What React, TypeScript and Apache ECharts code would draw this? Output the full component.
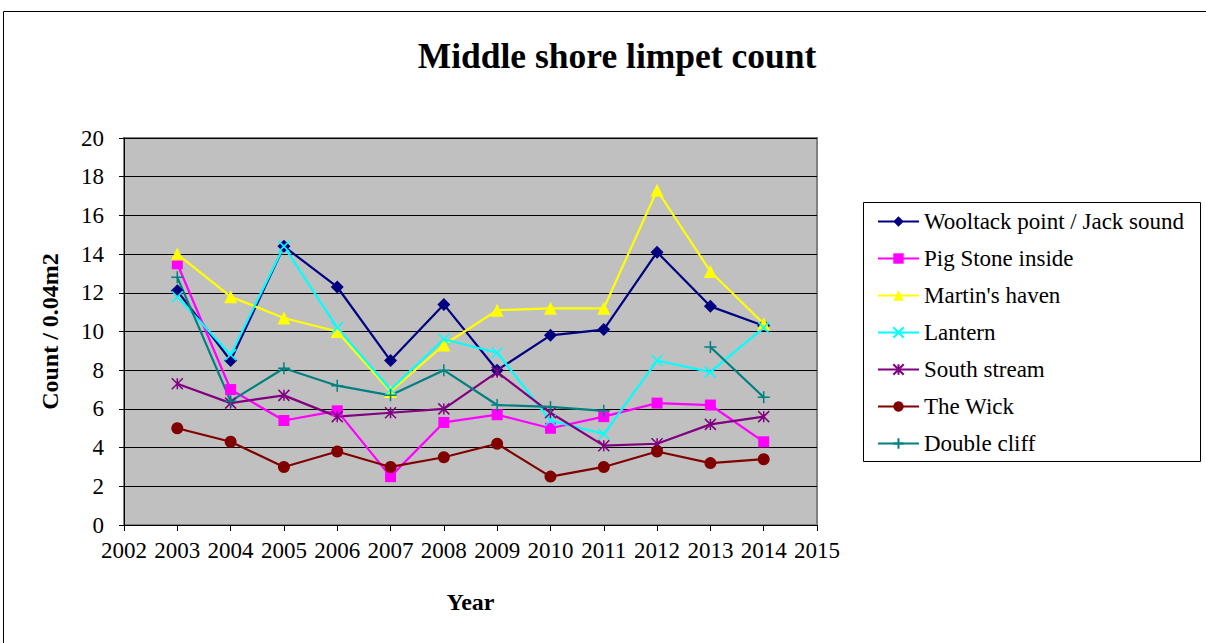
import React, { useEffect, useRef } from "react";
import * as echarts from "echarts";

const years = [2003, 2004, 2005, 2006, 2007, 2008, 2009, 2010, 2011, 2012, 2013, 2014];
const wooltack = [12.1, 8.5, 14.4, 12.3, 8.5, 11.4, 8.0, 9.8, 10.1, 14.1, 11.3, 10.3];
const pigStone = [13.5, 7.0, 5.4, 5.9, 2.5, 5.3, 5.7, 5.0, 5.6, 6.3, 6.2, 4.3];
const martins = [14.0, 11.8, 10.7, 10.0, 6.9, 9.3, 11.1, 11.2, 11.2, 17.3, 13.1, 10.4];
const lantern = [11.8, 8.8, 14.4, 10.2, 7.0, 9.6, 8.9, 5.4, 4.7, 8.5, 7.9, 10.2];
const southStream = [7.3, 6.3, 6.7, 5.6, 5.8, 6.0, 7.9, 5.8, 4.1, 4.2, 5.2, 5.6];
const theWick = [5.0, 4.3, 3.0, 3.8, 3.0, 3.5, 4.2, 2.5, 3.0, 3.8, 3.2, 3.4];
const doubleCliff = [12.8, 6.4, 8.1, 7.2, 6.7, 8.0, 6.2, 6.1, 5.9, null, 9.2, 6.6];

const FONT = '"Liberation Serif", "Times New Roman", serif';

const seriesDefs = [
  { name: "Wooltack point / Jack sound", data: wooltack, color: "#000080", symbol: "diamond", size: 13, stroke: false },
  { name: "Pig Stone inside", data: pigStone, color: "#FF00FF", symbol: "rect", size: 11, stroke: false },
  { name: "Martin's haven", data: martins, color: "#FFFF00", symbol: "triangle", size: 13, stroke: false },
  { name: "Lantern", data: lantern, color: "#00FFFF", symbol: "path://M0,0L10,10M10,0L0,10", size: 11, stroke: true },
  { name: "South stream", data: southStream, color: "#800080", symbol: "path://M0,0L10,10M10,0L0,10M5,0L5,10", size: 11, stroke: true },
  { name: "The Wick", data: theWick, color: "#800000", symbol: "circle", size: 12, stroke: false },
  { name: "Double cliff", data: doubleCliff, color: "#008080", symbol: "path://M5,0L5,10M0,5L10,5", size: 12, stroke: true },
];

export default function App() {
  const ref = useRef<HTMLDivElement>(null);
  useEffect(() => {
    if (!ref.current) return;
    const chart = echarts.init(ref.current, null, { renderer: "svg" });
    chart.setOption({
      animation: false,
      backgroundColor: "#ffffff",
      title: {
        text: "Middle shore limpet count",
        left: 612,
        top: 33,
        textAlign: "center",
        textStyle: { fontFamily: FONT, fontSize: 35.5, fontWeight: "bold", color: "#000" },
      },
      graphic: [
        {
          type: "rect",
          shape: { x: 3.5, y: 11.5, width: 1300, height: 700 },
          style: { fill: "none", stroke: "#000", lineWidth: 1 },
          silent: true,
        },
        {
          type: "rect",
          shape: { x: 863.5, y: 202.5, width: 337, height: 259 },
          style: { fill: "#fff", stroke: "#000", lineWidth: 1 },
          silent: true,
          z: 0,
        },
      ],
      legend: {
        orient: "vertical",
        left: 872,
        top: 205,
        itemWidth: 41,
        itemHeight: 13,
        itemGap: 14,
        z: 10,
        textStyle: { fontFamily: FONT, fontSize: 23, color: "#000", lineHeight: 23 },
        data: seriesDefs.map((s) => s.name),
      },
      grid: {
        left: 124,
        top: 138,
        right: 389,
        bottom: 118,
        show: true,
        backgroundColor: "#C0C0C0",
        borderColor: "#808080",
        borderWidth: 2,
      },
      xAxis: {
        type: "value",
        min: 2002,
        max: 2015,
        interval: 1,
        name: "Year",
        nameLocation: "middle",
        nameGap: 65,
        nameTextStyle: { fontFamily: FONT, fontSize: 24, fontWeight: "bold", color: "#000" },
        axisLine: { show: true, lineStyle: { color: "#000", width: 1 } },
        axisTick: { show: true, length: 6, lineStyle: { color: "#000" } },
        splitLine: { show: false },
        axisLabel: {
          fontFamily: FONT,
          fontSize: 23,
          color: "#000",
          margin: 14,
          showMinLabel: true,
          showMaxLabel: true,
          hideOverlap: false,
          formatter: (v: number) => String(v),
        },
      },
      yAxis: {
        type: "value",
        min: 0,
        max: 20,
        interval: 2,
        name: "Count / 0.04m2",
        nameLocation: "middle",
        nameGap: 62,
        nameRotate: 90,
        nameTextStyle: { fontFamily: FONT, fontSize: 24, fontWeight: "bold", color: "#000" },
        axisLine: { show: true, lineStyle: { color: "#000", width: 1 } },
        axisTick: { show: true, length: 5, lineStyle: { color: "#000" } },
        splitLine: { show: true, lineStyle: { color: "#000", width: 1 } },
        axisLabel: { fontFamily: FONT, fontSize: 23, color: "#000", margin: 20 },
      },
      series: seriesDefs.map((s) => ({
        name: s.name,
        type: "line",
        data: years.map((y, i) => [y, s.data[i] === null ? "-" : s.data[i]]),
        connectNulls: false,
        symbol: s.symbol,
        symbolSize: s.size,
        showSymbol: true,
        color: s.color,
        lineStyle: { color: s.color, width: 2.2 },
        itemStyle: s.stroke
          ? { color: s.color, borderColor: s.color, borderWidth: 1.5 }
          : { color: s.color, borderWidth: 0 },
        emphasis: { disabled: true },
      })),
    });
    return () => chart.dispose();
  }, []);
  return (
    <div
      ref={ref}
      style={{ position: "absolute", left: 0, top: 0, width: 1206, height: 643 }}
    />
  );
}
